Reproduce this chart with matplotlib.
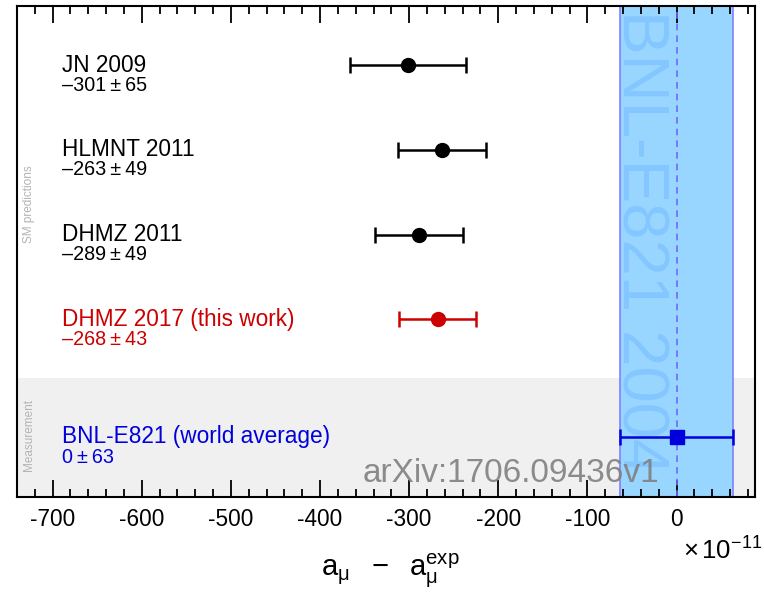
import matplotlib
matplotlib.use("Agg")
import matplotlib.pyplot as plt
from matplotlib.ticker import MultipleLocator, FuncFormatter

plt.rcParams['font.family'] = ['Liberation Sans', 'DejaVu Sans']
plt.rcParams['axes.unicode_minus'] = False
plt.rcParams['mathtext.fontset'] = 'custom'
plt.rcParams['mathtext.rm'] = 'Liberation Sans'
plt.rcParams['mathtext.it'] = 'Liberation Sans:italic'
plt.rcParams['mathtext.sf'] = 'Liberation Sans'

# data
names = ["JN 2009", "HLMNT 2011", "DHMZ 2011", "DHMZ 2017 (this work)"]
centers = [-301, -263, -289, -268]
errors = [65, 49, 49, 43]
value_labels = ["–301\u2009±\u200965", "–263\u2009±\u200949",
                "–289\u2009±\u200949", "–268\u2009±\u200943"]
colors = ["black", "black", "black", "#cc0000"]
rows = [5.08, 4.09, 3.09, 2.09]

meas_name = "BNL-E821 (world average)"
meas_center = 0
meas_error = 63
meas_label = "0\u2009±\u200963"
meas_row = 0.71

fig = plt.figure(figsize=(7.64, 5.92), dpi=100)
ax = fig.add_axes([17/764, 95/592, 738/764, 491/592])
ax.set_xlim(-740, 88)
ax.set_ylim(0, 5.78)

# measurement region
ax.axhspan(0, 1.4, color="#f0f0f0", zorder=0, lw=0)
# experimental band
ax.axvspan(meas_center - meas_error, meas_center + meas_error,
           facecolor="#99d6ff", edgecolor="#8080ff", lw=1.2, zorder=1)
ax.axvline(meas_center, color="#6a6aff", lw=1.2, ls=(0, (4, 3)), zorder=2)
ax.text(-60.5, 5.73, "BNL-E821 2004", rotation=-90, rotation_mode='anchor',
        ha='left', va='baseline', fontsize=47, color="#84c6ff", zorder=2,
        clip_on=True)

for n, c, e, v, col, r in zip(names, centers, errors, value_labels, colors, rows):
    ax.errorbar(c, r, xerr=e, fmt='o', color=col, ms=10, lw=1.8,
                capsize=6, capthick=1.8, zorder=5)
    ax.text(-690, r - 0.08, n, color=col, fontsize=16.3, ha='left', va='baseline')
    ax.text(-690, r - 0.305, v, color=col, fontsize=14.2, ha='left', va='baseline')

ax.errorbar(meas_center, meas_row, xerr=meas_error, fmt='s', color="#0000dd",
            ms=10, lw=1.8, capsize=6, capthick=1.8, zorder=5)
ax.text(-690, meas_row - 0.08, meas_name, color="#0000dd", fontsize=16.3,
        ha='left', va='baseline')
ax.text(-690, meas_row - 0.305, meas_label, color="#0000dd", fontsize=14.2,
        ha='left', va='baseline')

ax.text(-726, 3.45, "SM predictions", rotation=90, color="#b4b4b4",
        fontsize=8.5, ha='center', va='center')
ax.text(-726, 0.73, "Measurement", rotation=90, color="#b4b4b4",
        fontsize=8.5, ha='center', va='center')

ax.set_yticks([])
ax.xaxis.set_major_locator(MultipleLocator(100))
ax.xaxis.set_minor_locator(MultipleLocator(20))
ax.xaxis.set_major_formatter(FuncFormatter(lambda x, p: f"{int(round(x))}"))
ax.tick_params(axis='x', which='both', direction='in', top=True, bottom=True,
               labelsize=16.3, pad=8, width=1.3)
ax.tick_params(axis='x', which='major', length=12)
ax.tick_params(axis='x', which='minor', length=6)
for s in ax.spines.values():
    s.set_linewidth(1.5)

fig.text(363/764, 1 - 482/592, "arXiv:1706.09436v1", fontsize=24,
         color="#808080", alpha=0.9, ha='left', va='baseline')

fig.text(390/764, 1 - 576/592, r"$\mathrm{a_{\mu}\ \ -\ \ a_{\mu}^{exp}}$",
         fontsize=21, ha='center', va='baseline')
fig.text(683/764, 1 - 560/592, r"$\times\,\mathrm{10^{-11}}$", fontsize=18.5,
         ha='left', va='baseline')

fig.savefig("out.png", dpi=100)
